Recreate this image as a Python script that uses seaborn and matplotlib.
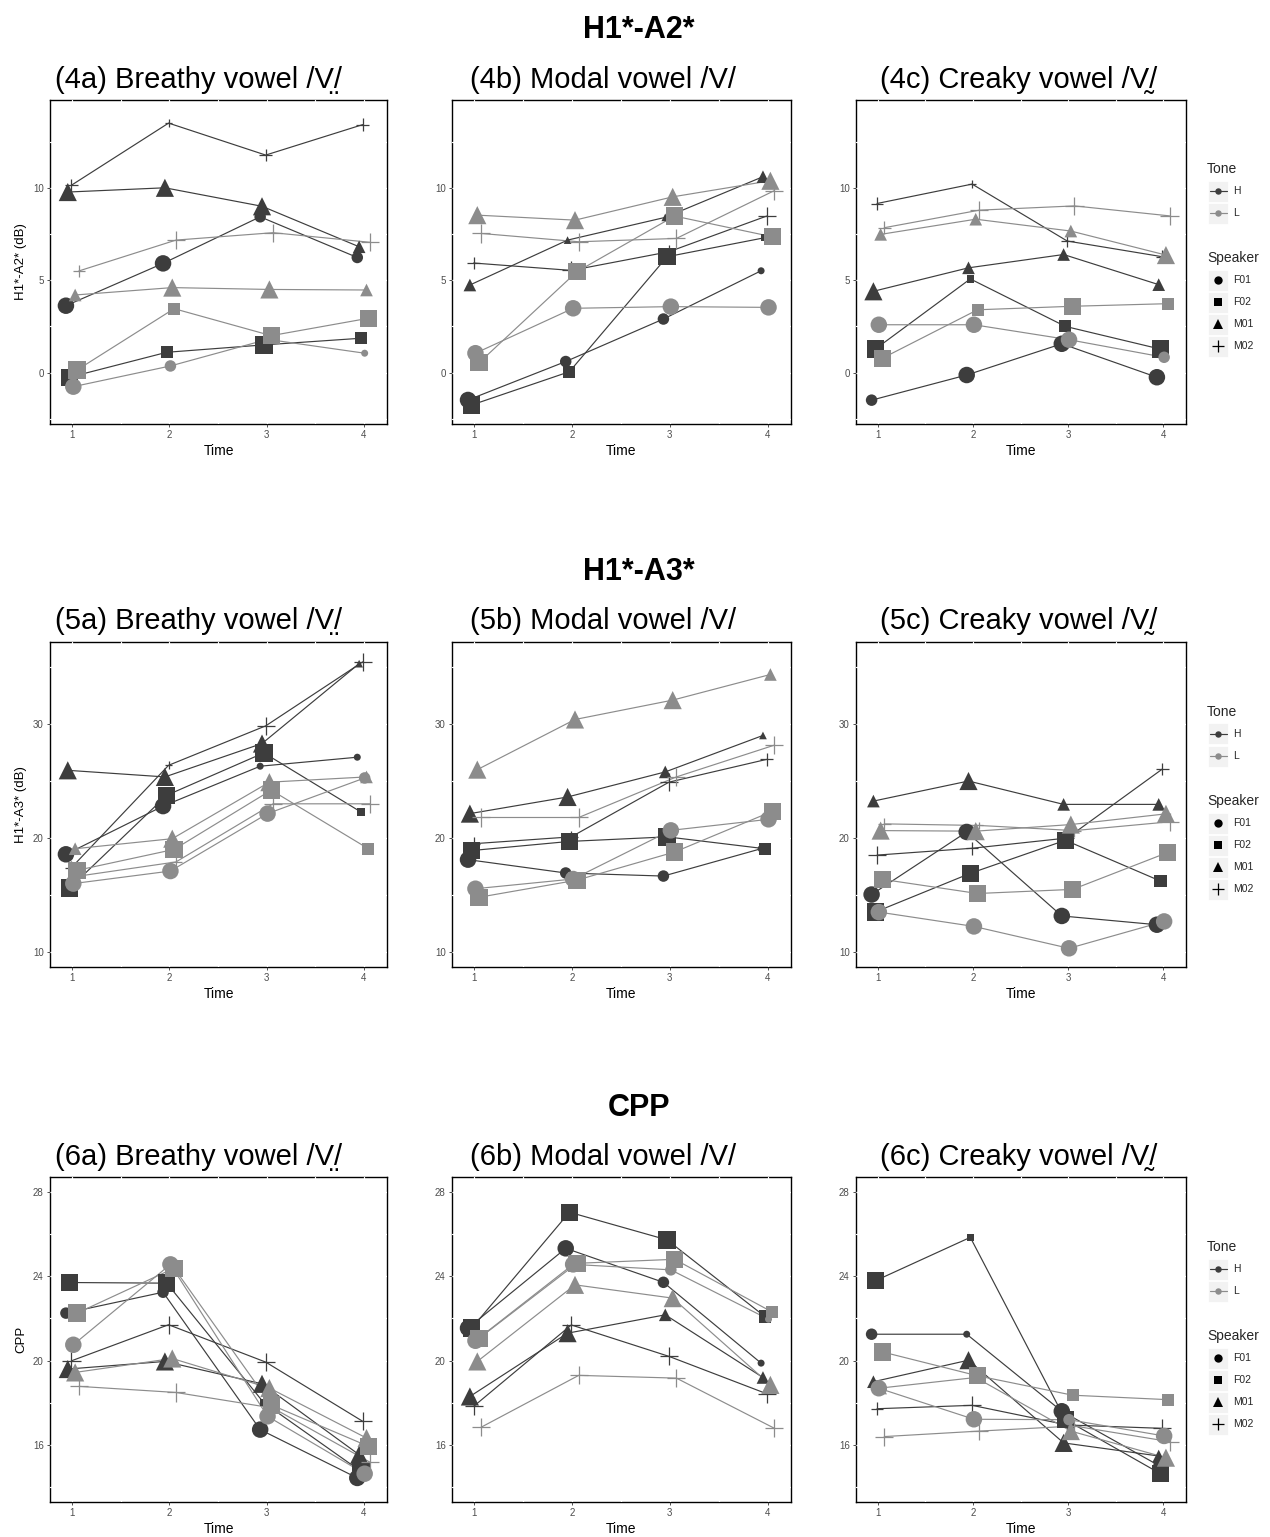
import numpy as np
import pandas as pd
import matplotlib
matplotlib.use("Agg")
import matplotlib.pyplot as plt
import seaborn as sns
from matplotlib.patches import Rectangle
from matplotlib.lines import Line2D
from matplotlib.ticker import MultipleLocator

# ---------------------------------------------------------------------------
# Data: mean value at each of four time points, per tone x speaker series.
# The *_n dicts give the token-count class of each point (drives marker size).
# ---------------------------------------------------------------------------
TIME = [1, 2, 3, 4]
TONES = ["H", "L"]
SPEAKERS = ["F01", "F02", "M01", "M02"]

# H1*-A2* (dB)
a2_breathy = {
    "H-F01": [3.62, 5.91, 8.43, 6.23], "H-F02": [-0.25, 1.10, 1.50, 1.86],
    "H-M01": [9.77, 10.0, 9.0, 6.81], "H-M02": [10.14, 13.5, 11.77, 13.42],
    "L-F01": [-0.76, 0.36, 1.80, 1.05], "L-F02": [0.14, 3.46, 2.0, 2.94],
    "L-M01": [4.2, 4.6, 4.5, 4.47], "L-M02": [5.5, 7.17, 7.57, 7.05],
}
a2_breathy_n = {
    "H-F01": [3, 3, 2, 2], "H-F02": [3, 2, 3, 2], "H-M01": [3, 3, 3, 2], "H-M02": [2, 1, 2, 2],
    "L-F01": [3, 2, 1, 1], "L-F02": [3, 2, 3, 3], "L-M01": [2, 3, 3, 2], "L-M02": [2, 3, 3, 3],
}
a2_modal = {
    "H-F01": [-1.48, 0.6, 2.9, 5.51], "H-F02": [-1.75, 0.05, 6.27, 7.3],
    "H-M01": [4.74, 7.17, 8.4, 10.6], "H-M02": [5.93, 5.53, 6.54, 8.47],
    "L-F01": [1.05, 3.48, 3.57, 3.53], "L-F02": [0.54, 5.46, 8.47, 7.35],
    "L-M01": [8.52, 8.25, 9.51, 10.38], "L-M02": [7.53, 7.08, 7.26, 9.84],
}
a2_modal_n = {
    "H-F01": [3, 2, 2, 1], "H-F02": [3, 2, 3, 1], "H-M01": [2, 1, 1, 2], "H-M02": [2, 3, 2, 3],
    "L-F01": [3, 3, 3, 3], "L-F02": [3, 3, 3, 3], "L-M01": [3, 3, 3, 3], "L-M02": [3, 3, 3, 3],
}
a2_creaky = {
    "H-F01": [-1.49, -0.13, 1.56, -0.25], "H-F02": [1.27, 5.07, 2.5, 1.27],
    "H-M01": [4.4, 5.67, 6.39, 4.76], "H-M02": [9.15, 10.2, 7.12, 6.27],
    "L-F01": [2.59, 2.59, 1.78, 0.83], "L-F02": [0.78, 3.4, 3.59, 3.73],
    "L-M01": [7.48, 8.3, 7.66, 6.36], "L-M02": [7.84, 8.79, 9.02, 8.48],
}
a2_creaky_n = {
    "H-F01": [2, 3, 3, 3], "H-F02": [3, 1, 2, 3], "H-M01": [3, 2, 2, 2], "H-M02": [2, 1, 2, 2],
    "L-F01": [3, 3, 3, 2], "L-F02": [3, 2, 3, 2], "L-M01": [2, 2, 2, 3], "L-M02": [2, 3, 3, 3],
}

# H1*-A3* (dB)
a3_breathy = {
    "H-F01": [18.57, 22.8, 26.3, 27.09], "H-F02": [15.6, 23.75, 27.47, 22.28],
    "H-M01": [25.94, 25.36, 28.29, 35.3], "H-M02": [17.4, 26.38, 29.84, 35.46],
    "L-F01": [16.0, 17.1, 22.14, 25.27], "L-F02": [17.16, 19.0, 24.2, 19.06],
    "L-M01": [19.06, 19.94, 24.9, 25.36], "L-M02": [16.66, 17.9, 23.0, 23.0],
}
a3_breathy_n = {
    "H-F01": [3, 3, 1, 1], "H-F02": [3, 3, 3, 1], "H-M01": [3, 3, 3, 1], "H-M02": [2, 1, 3, 3],
    "L-F01": [3, 3, 3, 2], "L-F02": [3, 3, 3, 2], "L-M01": [2, 3, 3, 2], "L-M02": [2, 2, 3, 3],
}
a3_modal = {
    "H-F01": [18.1, 16.93, 16.66, 19.06], "H-F02": [18.9, 19.7, 20.1, 19.06],
    "H-M01": [22.14, 23.6, 25.8, 29.0], "H-M02": [19.5, 20.1, 24.9, 26.9],
    "L-F01": [15.55, 16.4, 20.67, 21.64], "L-F02": [14.8, 16.3, 18.77, 22.34],
    "L-M01": [26.0, 30.4, 32.1, 34.35], "L-M02": [21.8, 21.8, 25.36, 28.14],
}
a3_modal_n = {
    "H-F01": [3, 2, 2, 1], "H-F02": [3, 3, 3, 2], "H-M01": [3, 3, 2, 1], "H-M02": [2, 2, 3, 2],
    "L-F01": [3, 3, 3, 3], "L-F02": [3, 3, 3, 3], "L-M01": [3, 3, 3, 2], "L-M02": [3, 3, 3, 3],
}
a3_creaky = {
    "H-F01": [15.04, 20.53, 13.16, 12.39], "H-F02": [13.5, 16.9, 19.8, 16.22],
    "H-M01": [23.24, 25.0, 22.95, 22.95], "H-M02": [18.5, 19.1, 20.0, 26.05],
    "L-F01": [13.5, 12.24, 10.32, 12.68], "L-F02": [16.37, 15.13, 15.49, 18.73],
    "L-M01": [20.65, 20.6, 21.18, 22.12], "L-M02": [21.24, 21.1, 20.65, 21.42],
}
a3_creaky_n = {
    "H-F01": [3, 3, 3, 3], "H-F02": [3, 3, 3, 2], "H-M01": [2, 3, 2, 2], "H-M02": [3, 2, 2, 2],
    "L-F01": [3, 3, 3, 3], "L-F02": [3, 3, 3, 3], "L-M01": [3, 3, 3, 3], "L-M02": [2, 1, 2, 3],
}

# CPP
cpp_breathy = {
    "H-F01": [22.25, 23.24, 16.73, 14.44], "H-F02": [23.7, 23.67, 18.0, 14.75],
    "H-M01": [19.6, 19.96, 18.9, 15.54], "H-M02": [19.99, 21.7, 19.93, 17.12],
    "L-F01": [20.75, 24.56, 17.36, 14.64], "L-F02": [22.25, 24.38, 17.9, 15.94],
    "L-M01": [19.44, 20.1, 18.7, 16.33], "L-M02": [18.78, 18.49, 17.75, 15.18],
}
cpp_breathy_n = {
    "H-F01": [2, 2, 3, 3], "H-F02": [3, 3, 1, 3], "H-M01": [3, 3, 3, 3], "H-M02": [3, 3, 3, 3],
    "L-F01": [3, 3, 3, 3], "L-F02": [3, 3, 3, 3], "L-M01": [3, 3, 3, 3], "L-M02": [3, 3, 2, 3],
}
cpp_modal = {
    "H-F01": [21.54, 25.32, 23.71, 19.88], "H-F02": [21.54, 27.03, 25.72, 22.09],
    "H-M01": [18.3, 21.3, 22.17, 19.2], "H-M02": [17.83, 21.69, 20.2, 18.43],
    "L-F01": [20.94, 24.56, 24.3, 21.96], "L-F02": [21.06, 24.61, 24.8, 22.3],
    "L-M01": [19.96, 23.59, 22.96, 18.85], "L-M02": [16.84, 19.3, 19.17, 16.8],
}
cpp_modal_n = {
    "H-F01": [3, 3, 2, 1], "H-F02": [3, 3, 3, 2], "H-M01": [3, 3, 2, 2], "H-M02": [3, 3, 3, 3],
    "L-F01": [3, 3, 2, 1], "L-F02": [3, 3, 3, 2], "L-M01": [3, 3, 3, 3], "L-M02": [3, 3, 3, 3],
}
cpp_creaky = {
    "H-F01": [21.25, 21.25, 17.6, 15.08], "H-F02": [23.78, 25.84, 17.2, 14.64],
    "H-M01": [19.0, 20.02, 16.1, 15.48], "H-M02": [17.72, 17.88, 16.95, 16.79],
    "L-F01": [18.69, 17.22, 17.2, 16.43], "L-F02": [20.41, 19.28, 18.36, 18.15],
    "L-M01": [18.7, 19.2, 16.66, 15.4], "L-M02": [16.4, 16.66, 16.9, 16.16],
}
cpp_creaky_n = {
    "H-F01": [2, 1, 3, 1], "H-F02": [3, 1, 3, 3], "H-M01": [2, 3, 3, 2], "H-M02": [2, 3, 2, 3],
    "L-F01": [3, 3, 2, 3], "L-F02": [3, 3, 2, 2], "L-M01": [2, 2, 3, 3], "L-M02": [3, 3, 2, 3],
}

ROW_TITLES = ["H1*-A2*", "H1*-A3*", "CPP"]
ROW_YLABELS = ["H1*-A2* (dB)", "H1*-A3* (dB)", "CPP"]
PANEL_TITLES = [
    ["(4a) Breathy vowel /V\u0324/", "(4b) Modal vowel /V/", "(4c) Creaky vowel /V\u0330/"],
    ["(5a) Breathy vowel /V\u0324/", "(5b) Modal vowel /V/", "(5c) Creaky vowel /V\u0330/"],
    ["(6a) Breathy vowel /V\u0324/", "(6b) Modal vowel /V/", "(6c) Creaky vowel /V\u0330/"],
]
PANELS = [
    [(a2_breathy, a2_breathy_n), (a2_modal, a2_modal_n), (a2_creaky, a2_creaky_n)],
    [(a3_breathy, a3_breathy_n), (a3_modal, a3_modal_n), (a3_creaky, a3_creaky_n)],
    [(cpp_breathy, cpp_breathy_n), (cpp_modal, cpp_modal_n), (cpp_creaky, cpp_creaky_n)],
]
ROW_YTICKS = [[0, 5, 10], [10, 20, 30], [16, 20, 24, 28]]
ROW_YMINOR = [2.5, 5, 2]
ROW_YLIM = [(-2.78, 14.75), (8.68, 37.2), (13.3, 28.7)]

# ---------------------------------------------------------------------------
# Styling
# ---------------------------------------------------------------------------
TONE_COLORS = {"H": "#3d3d3d", "L": "#8c8c8c"}
MARKERS = {"F01": "o", "F02": "s", "M01": "^", "M02": "+"}
MARKER_SCALE = {"F01": 1.0, "F02": 1.05, "M01": 1.1, "M02": 1.1}
LEVEL_PX = {1: 7.0, 2: 11.5, 3: 16.5}
# horizontal dodge of each series around the integer time points
DODGE_ORDER = ["H-F01", "H-M01", "H-F02", "H-M02", "L-F01", "L-M01", "L-F02", "L-M02"]
DODGE = {k: -0.066 + 0.019 * i for i, k in enumerate(DODGE_ORDER)}

W, H = 1270, 1537
DPI = 100

sns.set_theme(style="white")
plt.rcParams["font.family"] = ["Liberation Sans", "DejaVu Sans"]
TITLE_FAMILY = ["Liberation Sans", "Noto Sans", "DejaVu Sans"]


def fx(px):
    return px / W


def fy(py):
    return 1 - py / H


def panel_frame(series, counts):
    recs = []
    for key, vals in series.items():
        tone, spk = key.split("-")
        for t, v, n in zip(TIME, vals, counts[key]):
            recs.append({"Tone": tone, "Speaker": spk, "Time": t,
                         "x": t + DODGE[key], "value": v, "n": n})
    return pd.DataFrame(recs)


fig = plt.figure(figsize=(W / DPI, H / DPI), dpi=DPI)
fig.patch.set_facecolor("white")

COL_X = [(50, 387), (452, 791), (856, 1186)]
ROW_Y = [(100, 424), (642, 967), (1177, 1502)]
TITLE_X = [55, 470, 880]
ROW_TITLE_BASE = [38, 580, 1116]
PANEL_TITLE_BASE = [88, 629, 1165]
LEGEND_TOP = [169, 712, 1247]

for r in range(3):
    top, bot = ROW_Y[r]
    for c in range(3):
        left, right = COL_X[c]
        ax = fig.add_axes([fx(left), fy(bot), (right - left) / W, (bot - top) / H])
        series, counts = PANELS[r][c]
        df = panel_frame(series, counts)

        sns.lineplot(data=df, x="x", y="value", hue="Tone", units="Speaker",
                     estimator=None, palette=TONE_COLORS, hue_order=TONES,
                     legend=False, linewidth=0.85, sort=True, ax=ax, zorder=3)

        for tone in TONES:
            for spk in SPEAKERS:
                sub = df[(df["Tone"] == tone) & (df["Speaker"] == spk)]
                k = MARKER_SCALE[spk]
                sizes = {lv: (px * k * 72 / DPI) ** 2 for lv, px in LEVEL_PX.items()}
                if MARKERS[spk] == "+":
                    sns.scatterplot(data=sub, x="x", y="value", size="n", sizes=sizes,
                                    marker="+", color=TONE_COLORS[tone], linewidth=0.9,
                                    legend=False, ax=ax, zorder=4)
                else:
                    sns.scatterplot(data=sub, x="x", y="value", size="n", sizes=sizes,
                                    marker=MARKERS[spk], color=TONE_COLORS[tone],
                                    linewidth=0, edgecolor="none",
                                    legend=False, ax=ax, zorder=4)

        ax.set_xlim(0.77, 4.24)
        ax.set_ylim(*ROW_YLIM[r])
        ax.set_xticks(TIME)
        ax.set_yticks(ROW_YTICKS[r])
        ax.xaxis.set_minor_locator(MultipleLocator(0.5))
        ax.yaxis.set_minor_locator(MultipleLocator(ROW_YMINOR[r]))
        ax.set_facecolor("white")
        # white grid on a white panel: only visible where it crosses the frame
        ax.set_axisbelow(False)
        ax.grid(True, which="both", color="white", linewidth=0.9)
        for s in ax.spines.values():
            s.set_visible(True)
            s.set_color("black")
            s.set_linewidth(1.0)
        ax.tick_params(axis="both", which="major", length=2.5, width=0.6,
                       color="#333333", labelsize=7, labelcolor="#4d4d4d", pad=2,
                       bottom=True, left=True)
        ax.tick_params(axis="both", which="minor", length=0)
        ax.set_xlabel("Time", fontsize=10, color="black", labelpad=3)
        if c == 0:
            ax.set_ylabel(ROW_YLABELS[r], fontsize=9.5, color="black", labelpad=4)
        else:
            ax.set_ylabel("")
        fig.text(fx(TITLE_X[c]), fy(PANEL_TITLE_BASE[r]), PANEL_TITLES[r][c],
                 fontsize=21, ha="left", va="baseline", color="black",
                 family=TITLE_FAMILY)

    fig.text(fx(639), fy(ROW_TITLE_BASE[r]), ROW_TITLES[r], fontsize=22,
             fontweight="bold", ha="center", va="baseline", color="black")

    # legend for the row, drawn beside the third panel
    y0 = LEGEND_TOP[r]
    kx0, kx1 = 1208, 1228
    fig.text(fx(1207), fy(y0), "Tone", fontsize=10, ha="left", va="center")
    for i, tone in enumerate(TONES):
        yc = y0 + 22 + 22 * i
        fig.add_artist(Rectangle((fx(kx0), fy(yc + 10.5)), (kx1 - kx0) / W, 21 / H,
                                 transform=fig.transFigure, facecolor="#f2f2f2",
                                 edgecolor="white", linewidth=0.6))
        fig.add_artist(Line2D([fx(kx0 + 1.5), fx(kx1 - 1.5)], [fy(yc), fy(yc)],
                              transform=fig.transFigure, color=TONE_COLORS[tone],
                              linewidth=0.85))
        fig.add_artist(Line2D([fx((kx0 + kx1) / 2)], [fy(yc)], transform=fig.transFigure,
                              color=TONE_COLORS[tone], marker="o", markersize=3.6,
                              linestyle="none"))
        fig.text(fx(1233), fy(yc), tone, fontsize=7.5, ha="left", va="center")
    ys = y0 + 89
    fig.text(fx(1207), fy(ys), "Speaker", fontsize=10, ha="left", va="center")
    leg_ms = {"F01": 6.0, "F02": 5.8, "M01": 7.0, "M02": 8.5}
    for i, spk in enumerate(SPEAKERS):
        yc = ys + 22 + 22 * i
        fig.add_artist(Rectangle((fx(kx0), fy(yc + 10.5)), (kx1 - kx0) / W, 21 / H,
                                 transform=fig.transFigure, facecolor="#f2f2f2",
                                 edgecolor="white", linewidth=0.6))
        fig.add_artist(Line2D([fx((kx0 + kx1) / 2)], [fy(yc)], transform=fig.transFigure,
                              color="black", marker=MARKERS[spk], markersize=leg_ms[spk],
                              markeredgewidth=0.9 if spk == "M02" else 0,
                              linestyle="none"))
        fig.text(fx(1233), fy(yc), spk, fontsize=7.5, ha="left", va="center")

fig.savefig("out.png", dpi=DPI, facecolor="white")
